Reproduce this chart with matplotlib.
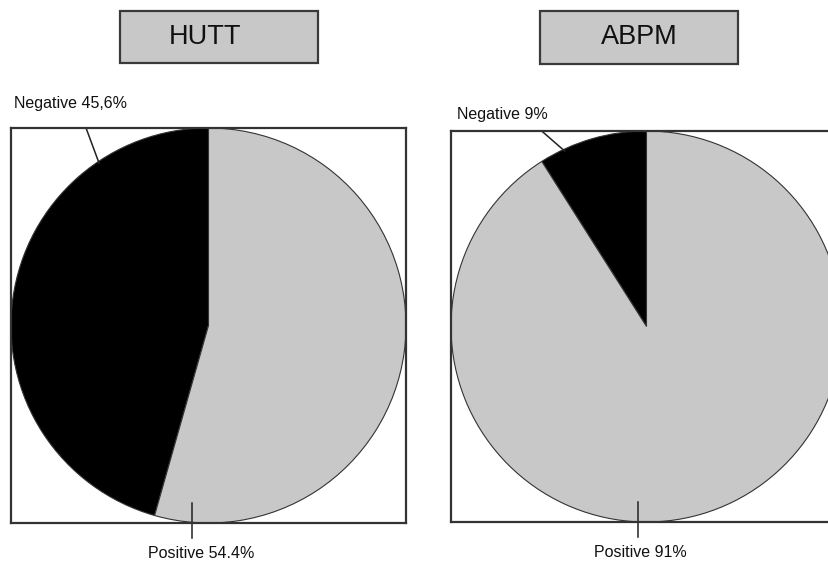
import numpy as np
import matplotlib.pyplot as plt
from matplotlib.patches import Rectangle

# data
panel_titles = ["HUTT", "ABPM"]
slice_names = ["Negative", "Positive"]
hutt_values = [45.6, 54.4]
abpm_values = [9, 91]
hutt_labels = ["Negative 45,6%", "Positive 54.4%"]
abpm_labels = ["Negative 9%", "Positive 91%"]

slice_colors = ["black", "#c8c8c8"]
W, H = 829, 562

plt.rcParams["font.family"] = ["Liberation Sans", "DejaVu Sans"]
fig = plt.figure(figsize=(W / 100, H / 100), dpi=100)


def px_axes(left, top, size):
    return fig.add_axes([left / W, (H - top - size) / H, size / W, size / H])


def title_box(x0, x1, y0, y1, text, text_x=None):
    rect = Rectangle((x0 / W, 1 - y1 / H), (x1 - x0) / W, (y1 - y0) / H,
                     transform=fig.transFigure, facecolor="#c8c8c8",
                     edgecolor="#3a3a3a", linewidth=1.6)
    fig.add_artist(rect)
    if text_x is None:
        text_x = (x0 + x1) / 2
    fig.text(text_x / W, 1 - (y0 + y1) / 2 / H, text, ha="center",
             va="center", fontsize=19.5, color="#111111")


def draw_pie(ax, values, labels, neg_start_x, neg_angle, neg_xy, pos_x, pos_xy):
    ax.pie(values, colors=slice_colors, startangle=90, counterclock=True,
           radius=1.0, wedgeprops=dict(edgecolor="#333333", linewidth=0.8))
    ax.set_xlim(-1, 1)
    ax.set_ylim(-1, 1)
    ax.set_aspect("equal")
    ax.set_frame_on(True)
    ax.set_xticks([])
    ax.set_yticks([])
    for s in ax.spines.values():
        s.set_visible(True)
        s.set_linewidth(1.6)
        s.set_color("#333333")
    # negative leader line, from box top to circle edge
    a = np.deg2rad(neg_angle)
    ax.plot([neg_start_x, 0.99 * np.cos(a)], [1.0, 0.99 * np.sin(a)],
            color="#222222", lw=1.1, clip_on=False)
    ax.text(neg_xy[0], neg_xy[1], labels[0], fontsize=11.5,
            ha="left", va="baseline", color="#111111", clip_on=False)
    # positive leader line
    ax.plot([pos_x, pos_x], [-0.9, -1.075], color="#222222", lw=1.1,
            clip_on=False)
    ax.text(pos_xy[0], pos_xy[1], labels[1], fontsize=11.5, ha="center",
            va="baseline", color="#111111", clip_on=False)


ax1 = px_axes(11, 128, 395)
draw_pie(ax1, hutt_values, hutt_labels, -0.62, 124, (-0.985, 1.10),
         -0.086, (-0.035, -1.177))

ax2 = px_axes(451, 131, 391)
draw_pie(ax2, abpm_values, abpm_labels, -0.536, 115, (-0.97, 1.06),
         -0.041, (-0.03, -1.18))

title_box(120, 318, 11, 63, panel_titles[0], text_x=205)
title_box(540, 738, 11, 64, panel_titles[1])

fig.savefig("out.png", dpi=100)
